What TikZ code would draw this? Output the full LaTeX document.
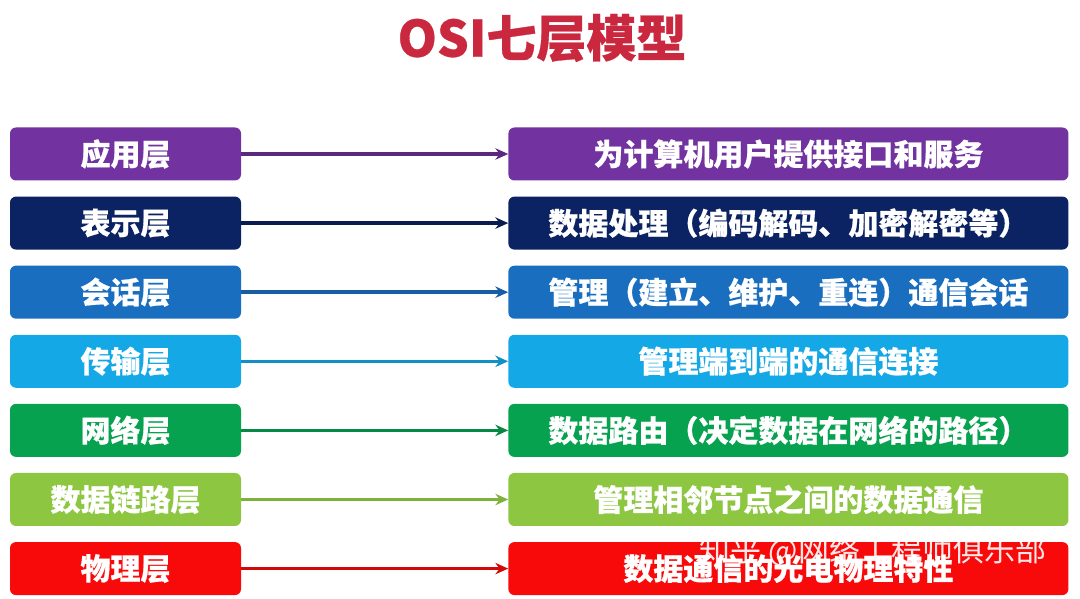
\documentclass[tikz,border=0pt]{standalone}
\usepackage{fontspec}
\newfontfamily\cjk{Noto Sans CJK SC}[BoldFeatures={FakeBold=0.6}]
\usetikzlibrary{positioning}
\usetikzlibrary {arrows.meta}
\definecolor{titlered}{HTML}{C9283E}
\definecolor{cApp}{HTML}{7232A0}
\definecolor{cPre}{HTML}{0B2263}
\definecolor{cSes}{HTML}{1A6EC0}
\definecolor{cTra}{HTML}{15A8E6}
\definecolor{cNet}{HTML}{07A24F}
\definecolor{cDat}{HTML}{8DC641}
\definecolor{cPhy}{HTML}{F80A0A}
\tikzset{layer/.style={rectangle,rounded corners=6pt,draw=none,text=white,
inner sep=2pt,minimum height=53pt, minimum width=231pt,
font=\cjk\bfseries\fontsize{30}{32}\selectfont}}
\tikzset{task/.style={rectangle,rounded corners=6pt,draw=none,text=white,
inner sep=2pt,minimum height=53pt, minimum width=560pt,
font=\cjk\bfseries\fontsize{30}{32}\selectfont}}
\tikzset{link/.style={line width=3.5pt,-{Stealth[length=4.5mm,width=4mm]}}}

\begin{document}
\begin{tikzpicture}[x=1pt,y=1pt]
        \useasboundingbox (0,0) rectangle (1080,599);

        \node[text=titlered,font=\cjk\bfseries\fontsize{50}{54}\selectfont] (title) at (542,561) {OSI七层模型};

        \node[layer,fill=cApp] (boxA) at (125.5,445) {应用层};
        \node[layer,fill=cPre] (boxB) [below=15.7pt of boxA] {表示层};
        \node[layer,fill=cSes] (boxC) [below=15.7pt of boxB] {会话层};
        \node[layer,fill=cTra] (boxD) [below=15.7pt of boxC] {传输层};
        \node[layer,fill=cNet] (boxE) [below=15.7pt of boxD] {网络层};
        \node[layer,fill=cDat] (boxF) [below=15.7pt of boxE] {数据链路层};
        \node[layer,fill=cPhy] (boxG) [below=15.7pt of boxF] {物理层};

        \node[task,fill=cApp] (boxArev) [right=267pt of boxA] {为计算机用户提供接口和服务};
        \node[task,fill=cPre] (boxBrev) [right=267pt of boxB] {数据处理（编码解码、加密解密等）};
        \node[task,fill=cSes] (boxCrev) [right=267pt of boxC] {管理（建立、维护、重连）通信会话};
        \node[task,fill=cTra] (boxDrev) [right=267pt of boxD] {管理端到端的通信连接};
        \node[task,fill=cNet] (boxErev) [right=267pt of boxE] {数据路由（决定数据在网络的路径）};
        \node[task,fill=cDat] (boxFrev) [right=267pt of boxF] {管理相邻节点之间的数据通信};
        \node[task,fill=cPhy] (boxGrev) [right=267pt of boxG] {数据通信的光电物理特性};

        \draw [link,draw=cApp!80!black] (boxA) -- (boxArev);
        \draw [link,draw=cPre!80!black] (boxB) -- (boxBrev);
        \draw [link,draw=cSes!85!black] (boxC) -- (boxCrev);
        \draw [link,draw=cTra!85!black] (boxD) -- (boxDrev);
        \draw [link,draw=cNet!85!black] (boxE) -- (boxErev);
        \draw [link,draw=cDat!90!black] (boxF) -- (boxFrev);
        \draw [link,draw=cPhy!85!black] (boxG) -- (boxGrev);

        % watermark
        \node[text=white,opacity=0.9,font=\cjk\fontsize{31}{33}\selectfont] (mark) at (873,48) {知乎 @网络工程师俱乐部};

    \end{tikzpicture}
\end{document}
